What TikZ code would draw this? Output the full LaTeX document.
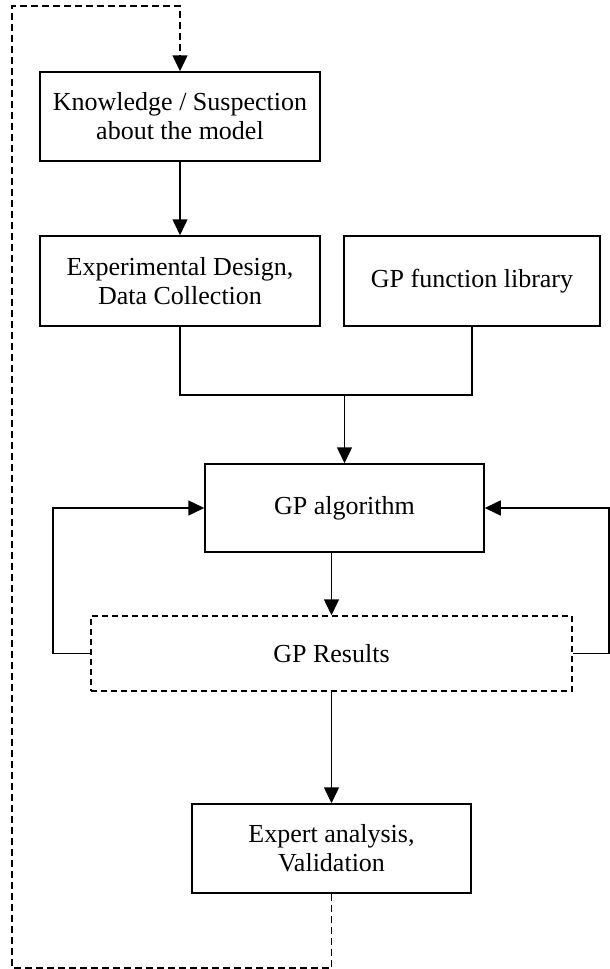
\documentclass[tikz,border=0pt]{standalone}
\usepackage{fontspec}
\setmainfont{Liberation Serif}
\usetikzlibrary{arrows.meta}
\begin{document}
\begin{tikzpicture}[x=1pt,y=-1pt,
  box/.style={draw=black, line width=1.5pt, rectangle, align=center, inner sep=0pt,
    font=\fontsize{26}{29}\selectfont},
  dbox/.style={box, dash pattern=on 6pt off 4pt},
  conn/.style={draw=black, line width=1.5pt},
  arr/.style={conn, -{Triangle[width=15pt,length=16pt]}},
  fb/.style={arr, dash pattern=on 7pt off 4pt}]
\useasboundingbox (0,0) rectangle (610,969);
\node[box, minimum width=280pt, minimum height=89pt] (know) at (180,116.5) {Knowledge / Suspection\\about the model};
\node[box, minimum width=280pt, minimum height=90pt] (exp) at (180,281) {Experimental Design,\\Data Collection};
\node[box, minimum width=256pt, minimum height=90pt] (lib) at (472,281) {GP function library};
\node[box, minimum width=279pt, minimum height=88pt] (alg) at (344.5,508) {GP algorithm};
\node[dbox, minimum width=481pt, minimum height=75pt] (res) at (331.5,653.5) {GP Results};
\node[box, minimum width=279pt, minimum height=89pt] (expert) at (331.5,848.5) {Expert analysis,\\Validation};
\coordinate (mj) at (344.5,395);
\coordinate (L) at (53,508);
\coordinate (R) at (609,508);
\coordinate (fb1) at (331.5,968);
\coordinate (fb2) at (12,968);
\coordinate (fb3) at (12,6);
\draw[arr] (know.south) -- (exp.north);
\draw[conn] (exp.south) |- (mj) -| (lib.south);
\draw[arr] (mj) -- (alg.north);
\draw[arr] (alg.south -| res.north) -- (res.north);
\draw[arr] (res.west) -| (L) -- (alg.west);
\draw[arr] (res.east) -| (R) -- (alg.east);
\draw[arr] (res.south) -- (expert.north);
\draw[fb] (expert.south) -- (fb1) -- (fb2) -- (fb3) -- (know.north |- fb3) -- (know.north);
\end{tikzpicture}
\end{document}
